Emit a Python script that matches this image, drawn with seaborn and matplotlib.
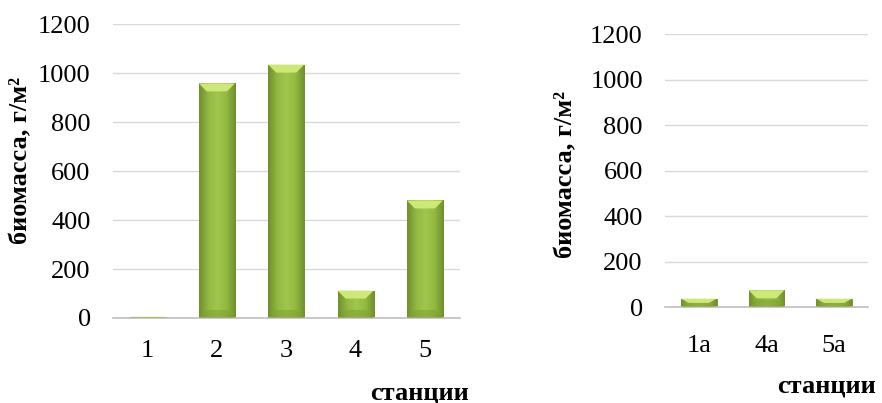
import numpy as np
import pandas as pd
import matplotlib
matplotlib.use("Agg")
import matplotlib.pyplot as plt
import seaborn as sns
from matplotlib.colors import LinearSegmentedColormap
from matplotlib.patches import Polygon

# данные
stations_main = ["1", "2", "3", "4", "5"]
biomass_main = [5, 958, 1035, 112, 480]

stations_extra = ["1а", "4а", "5а"]
biomass_extra = [38, 75, 38]

y_ticks = [0, 200, 400, 600, 800, 1000, 1200]
y_label = "биомасса, г/м²"
x_label = "станции"

sns.set_theme(style="white")
plt.rcParams["font.family"] = ["Liberation Serif", "DejaVu Serif"]
plt.rcParams["text.color"] = "black"
plt.rcParams["axes.labelcolor"] = "black"

body_cmap = LinearSegmentedColormap.from_list(
    "body", ["#6f8f2c", "#93b941", "#a0c64c", "#93b941", "#6f8f2c"])
top_color = "#cde878"
bottom_color = "#7d9f33"


def bevel_bars(ax):
    inv = ax.transData.inverted()
    for p in ax.patches:
        x, y = p.get_x(), p.get_y()
        w, h = p.get_width(), p.get_height()
        if h <= 0:
            continue
        p.set_facecolor("none")
        p.set_edgecolor("#667f28")
        p.set_linewidth(0.6)
        grad = np.linspace(0, 1, 64).reshape(1, -1)
        im = ax.imshow(grad, cmap=body_cmap, aspect="auto",
                       extent=(x, x + w, y, y + h), zorder=2)
        im.set_clip_path(p)
        # bevel size in pixels -> data units
        x0, y0 = inv.transform((0, 0))
        x1, y1 = inv.transform((8, 8))
        bx, by = abs(x1 - x0), abs(y1 - y0)
        by = min(by, h * 0.5)
        bx = min(bx, w * 0.3)
        top = Polygon([(x, y + h), (x + w, y + h), (x + w - bx, y + h - by),
                       (x + bx, y + h - by)], closed=True,
                      facecolor=top_color, edgecolor="none", zorder=3)
        ax.add_patch(top)
        bot = Polygon([(x, y), (x + w, y), (x + w - bx, y + by),
                       (x + bx, y + by)], closed=True,
                      facecolor=bottom_color, edgecolor="none", zorder=3, alpha=0.5)
        ax.add_patch(bot)
    ax.set_xlim(-0.5, len(ax.get_xticks()) - 0.5)


def style_axes(ax, xpad):
    ax.set_ylim(0, 1200)
    ax.set_yticks(y_ticks)
    ax.grid(axis="y", color="#d9d9d9", linewidth=1.0, zorder=0)
    ax.set_axisbelow(True)
    for s in ["top", "right", "left"]:
        ax.spines[s].set_visible(False)
    ax.spines["bottom"].set_color("#bfbfbf")
    ax.spines["bottom"].set_linewidth(1.2)
    ax.tick_params(axis="y", length=0, pad=16, labelsize=19, colors="black")
    ax.tick_params(axis="x", length=0, pad=xpad, labelsize=19, colors="black")


fig = plt.figure(figsize=(8.82, 4.03), dpi=100)

ax1 = fig.add_axes([0.128, 0.211, 0.393, 0.729])
df1 = pd.DataFrame({"station": stations_main, "biomass": biomass_main})
sns.barplot(data=df1, x="station", y="biomass", ax=ax1, width=0.52,
            color="#93b941", saturation=1)
style_axes(ax1, 16)
bevel_bars(ax1)
ax1.set_xlabel(x_label, fontsize=19, fontweight="bold", color="black")
ax1.xaxis.set_label_coords(0.885, -0.255)
ax1.xaxis.label.set_va("center")
ax1.set_ylabel(y_label, fontsize=19, fontweight="bold", color="black")
ax1.yaxis.set_label_coords(-0.232, 0.537)

ax2 = fig.add_axes([0.754, 0.2375, 0.230, 0.6774])
df2 = pd.DataFrame({"station": stations_extra, "biomass": biomass_extra})
sns.barplot(data=df2, x="station", y="biomass", ax=ax2, width=0.53,
            color="#93b941", saturation=1)
style_axes(ax2, 20)
bevel_bars(ax2)
ax2.set_xlabel(x_label, fontsize=19, fontweight="bold", color="black")
ax2.xaxis.set_label_coords(0.798, -0.290)
ax2.xaxis.label.set_va("center")
ax2.set_ylabel(y_label, fontsize=19, fontweight="bold", color="black")
ax2.yaxis.set_label_coords(-0.43, 0.485)

fig.savefig("out.png", dpi=100)
